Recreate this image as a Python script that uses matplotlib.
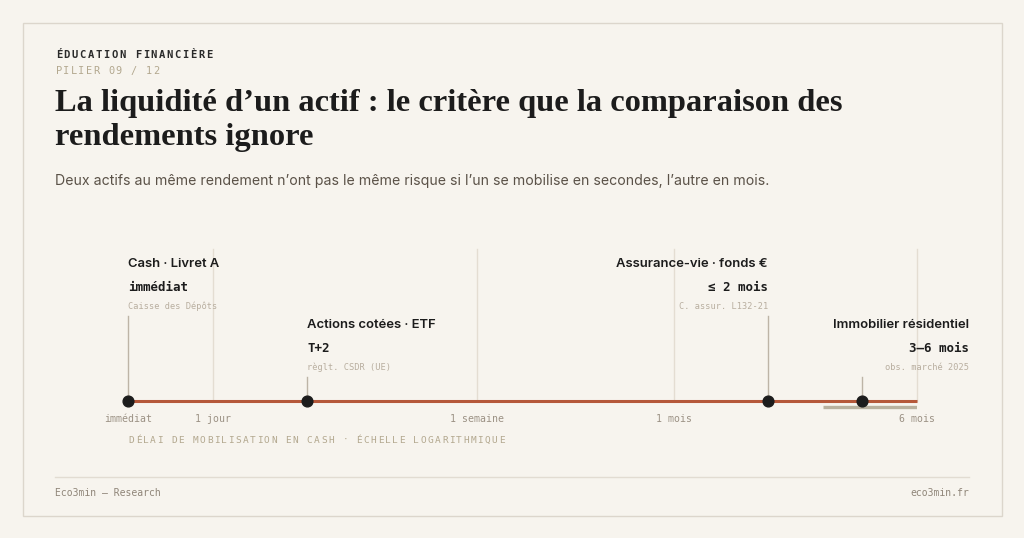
import matplotlib
matplotlib.use("Agg")
import matplotlib.pyplot as plt
from matplotlib.patches import Rectangle

# data (délais en jours, échelle log)
assets = ["Cash · Livret A", "Actions cotées · ETF", "Assurance-vie · fonds €", "Immobilier résidentiel"]
delays = [0.534, 2, 60, 120]
delay_labels = ["immédiat", "T+2", "≤ 2 mois", "3–6 mois"]
sources = ["Caisse des Dépôts", "règlt. CSDR (UE)", "C. assur. L132-21", "obs. marché 2025"]
immo_range = [90, 180]

tick_vals = [0.534, 1, 7, 30, 180]
tick_labels = ["immédiat", "1 jour", "1 semaine", "1 mois", "6 mois"]

BG = "#f7f4ee"
INK = "#1c1c1c"
KHAKI = "#b3a88f"
RUST = "#b5583a"
GRID = "#e4ddd2"
LEAD = "#bdb4a6"

MONO = "DejaVu Sans Mono"
SANS = "Inter"
SERIF = "Liberation Serif"

W, H = 1024, 538
fig = plt.figure(figsize=(W / 100, H / 100), dpi=100)
fig.patch.set_facecolor(BG)

# full-figure overlay in pixel coordinates (y down)
bg = fig.add_axes([0, 0, 1, 1])
bg.set_xlim(0, W)
bg.set_ylim(H, 0)
bg.axis("off")
bg.add_patch(Rectangle((22.5, 22.5), 979, 493, fill=False, ec="#dcd6cc", lw=1))


def spaced(ax, x, y, s, step, **kw):
    # letter-spaced monospace text, one glyph per cell
    for i, ch in enumerate(s):
        ax.text(x + i * step + step / 2, y, ch, ha="center", va="baseline", **kw)


spaced(bg, 55, 58, "ÉDUCATION FINANCIÈRE", 7.9, family=MONO, fontsize=7.6,
       fontweight="bold", color="#2a2a2a")
spaced(bg, 55, 74, "PILIER 09 / 12", 7.5, family=MONO, fontsize=7.4, color=KHAKI)

bg.text(55, 103, "La liquidité d’un actif : le critère que la comparaison des",
        family=SERIF, fontsize=23.4, fontweight="bold", color=INK, va="center", ha="left")
bg.text(55, 138, "rendements ignore",
        family=SERIF, fontsize=23.4, fontweight="bold", color=INK, va="center", ha="left")
bg.text(55, 181, "Deux actifs au même rendement n’ont pas le même risque si l’un se mobilise en secondes, l’autre en mois.",
        family=SANS, fontsize=10.2, color="#5b5248", va="center", ha="left")

bg.plot([55, 969], [477, 477], color="#e2dcd2", lw=1)
bg.text(55, 493, "Eco3min — Research", family=MONO, fontsize=7, color="#8f8578", va="center", ha="left")
bg.text(969, 493, "eco3min.fr", family=MONO, fontsize=7, color="#8f8578", va="center", ha="right")

spaced(bg, 128, 443, "DÉLAI DE MOBILISATION EN CASH · ÉCHELLE LOGARITHMIQUE", 7.12,
       family=MONO, fontsize=6.8, color=KHAKI)

# timeline axes: x in days (log), y in figure pixels
x0, x1 = 128, 917
y_top, y_bot = 240, 450
ax = fig.add_axes([x0 / W, 1 - y_bot / H, (x1 - x0) / W, (y_bot - y_top) / H])
ax.set_xscale("log")
ax.set_xlim(tick_vals[0], tick_vals[-1])
ax.set_ylim(y_bot, y_top)
ax.axis("off")
ax.patch.set_alpha(0)

LINE_Y = 401
for v in tick_vals[1:]:
    ax.plot([v, v], [249, LINE_Y], color=GRID, lw=1, zorder=1, clip_on=False)
for v, lab in zip(tick_vals, tick_labels):
    ax.text(v, 419, lab, family=MONO, fontsize=7.1, color="#9b9184", ha="center", va="center")

ax.plot([tick_vals[0], tick_vals[-1]], [LINE_Y, LINE_Y], color=RUST, lw=2.2, zorder=3,
        solid_capstyle="butt", clip_on=False)
ax.plot(immo_range, [407, 407], color="#b9b19f", lw=2.4, zorder=2, solid_capstyle="butt")

# label layout: rows and alignment per asset
rows = [264, 325, 264, 325]
aligns = ["left", "left", "right", "right"]
for i, (v, name, dl, src) in enumerate(zip(delays, assets, delay_labels, sources)):
    r = rows[i]
    ha = aligns[i]
    xt = v
    if i == 3:
        # immobilier: label flush with the right margin (969 px)
        xt = 10 ** ((969 - 213) / 312.0)
    ax.text(xt, r, name, family=SANS, fontsize=9.4, fontweight="semibold", color=INK,
            ha=ha, va="center", clip_on=False)
    ax.text(xt, r + 23, dl, family=MONO, fontsize=9, fontweight="bold", color=INK,
            ha=ha, va="center", clip_on=False)
    ax.text(xt, r + 42, src, family=MONO, fontsize=6.2, color="#b8ae9f",
            ha=ha, va="center", clip_on=False)
    ax.plot([v, v], [r + 52, LINE_Y], color=LEAD, lw=1, zorder=2, clip_on=False)
    ax.scatter([v], [LINE_Y], s=60, color=INK, zorder=5, clip_on=False)

fig.savefig("out.png", dpi=100, facecolor=BG)
